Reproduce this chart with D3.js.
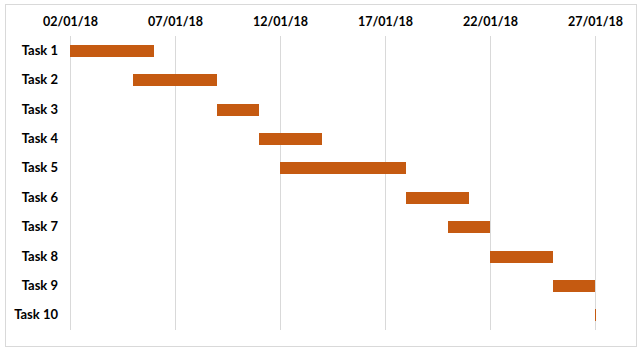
<!DOCTYPE html>
<html>
<head>
<meta charset="utf-8">
<script src="https://cdn.jsdelivr.net/npm/d3@7"></script>
<style>
  body { margin: 0; background: #fff; }
  svg { display: block; }
</style>
</head>
<body>
<div id="chart"></div>
<script>
const tasks = ["Task 1", "Task 2", "Task 3", "Task 4", "Task 5", "Task 6", "Task 7", "Task 8", "Task 9", "Task 10"];
const startDates = ["02/01/18", "05/01/18", "09/01/18", "11/01/18", "12/01/18", "18/01/18", "20/01/18", "22/01/18", "25/01/18", "27/01/18"];
const durations = [4, 4, 2, 3, 6, 3, 2, 3, 2, 0];
const tickLabels = ["02/01/18", "07/01/18", "12/01/18", "17/01/18", "22/01/18", "27/01/18"];

const parse = d3.utcParse("%d/%m/%y");
const fmt = d3.utcFormat("%d/%m/%y");
const data = tasks.map((t, i) => {
  const start = parse(startDates[i]);
  return { task: t, start: start, end: d3.utcDay.offset(start, durations[i]) };
});

const width = 644, height = 351;
const margin = { top: 36, right: 48, bottom: 21, left: 70 };

const svg = d3.select("#chart").append("svg")
  .attr("width", width)
  .attr("height", height);

// chart border
svg.append("rect")
  .attr("x", 5.5).attr("y", 4.5)
  .attr("width", 631).attr("height", 342)
  .attr("fill", "#fff")
  .attr("stroke", "#d9d9d9");

const ticks = tickLabels.map(parse);
const x = d3.scaleUtc()
  .domain([ticks[0], ticks[ticks.length - 1]])
  .range([margin.left, width - margin.right - 1]);

const y = d3.scaleBand()
  .domain(tasks)
  .range([margin.top, height - margin.bottom])
  .paddingInner(0.6)
  .paddingOuter(0.3);

// gridlines
svg.append("g")
  .selectAll("line")
  .data(ticks)
  .enter()
  .append("line")
  .attr("x1", d => Math.round(x(d)) + 0.5)
  .attr("x2", d => Math.round(x(d)) + 0.5)
  .attr("y1", margin.top)
  .attr("y2", height - margin.bottom)
  .attr("stroke", "#d9d9d9");

// top axis labels
const xAxis = svg.append("g")
  .attr("transform", `translate(0, ${margin.top})`)
  .call(d3.axisTop(x).tickValues(ticks).tickFormat(fmt).tickSize(0).tickPadding(10));
xAxis.select(".domain").remove();
xAxis.selectAll("text")
  .attr("font-family", "Lato, sans-serif")
  .attr("font-size", "12.5px")
  .attr("font-weight", "bold")
  .attr("fill", "#000");

// left axis labels
const yAxis = svg.append("g")
  .attr("transform", `translate(${margin.left}, 0)`)
  .call(d3.axisLeft(y).tickSize(0).tickPadding(12));
yAxis.select(".domain").remove();
yAxis.selectAll("text")
  .attr("font-family", "Lato, sans-serif")
  .attr("font-size", "13px")
  .attr("font-weight", "bold")
  .attr("fill", "#000");

// bars
svg.append("g")
  .selectAll("rect")
  .data(data)
  .enter()
  .append("rect")
  .attr("x", d => Math.round(x(d.start)))
  .attr("y", d => Math.round(y(d.task)))
  .attr("width", d => Math.max(1, Math.round(x(d.end)) - Math.round(x(d.start))))
  .attr("height", Math.round(y.bandwidth()))
  .attr("fill", "#c55a11");
</script>
</body>
</html>
